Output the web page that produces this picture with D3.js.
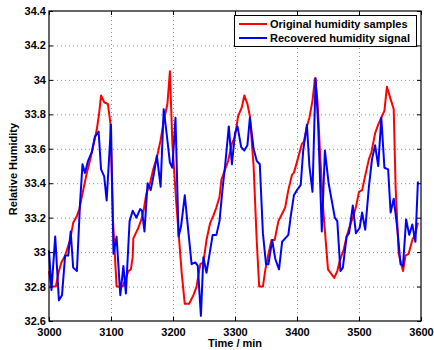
<!DOCTYPE html>
<html><head><meta charset="utf-8">
<script src="https://cdn.jsdelivr.net/npm/d3@7"></script>
<style>
html,body{margin:0;padding:0;background:#fff;}
svg text{font-family:"Liberation Sans",Arial,Helvetica,sans-serif;font-weight:bold;font-size:11px;fill:#000;}
</style></head><body>
<svg id="chart" width="434" height="350"></svg>
<script>
// Original humidity samples (time in minutes, relative humidity)
const originalTime = [3000,3004,3011,3016,3020,3026,3034,3039,3045,3049,3054,3061,3066,3071,3077,3081,3084,3089,3095,3099,3103,3109,3119,3128,3132,3135,3136,3144,3149,3153,3157,3163,3168,3174,3180,3185,3191,3195,3199,3205,3214,3219,3226,3233,3238,3244,3249,3254,3260,3265,3270,3275,3278,3284,3289,3295,3300,3305,3311,3315,3320,3324,3330,3335,3339,3345,3349,3354,3359,3364,3370,3377,3381,3386,3392,3395,3402,3408,3411,3416,3420,3425,3429,3433,3437,3442,3450,3456,3460,3465,3469,3475,3480,3485,3491,3495,3500,3505,3511,3516,3520,3526,3531,3537,3541,3545,3550,3556,3559,3564,3571,3575,3580,3586,3591,3595];
const originalHumidity = [32.89,32.80,32.80,32.89,32.94,32.98,33.07,33.17,33.21,33.25,33.34,33.46,33.53,33.61,33.71,33.81,33.91,33.87,33.86,33.75,33.20,32.80,32.80,32.89,32.90,32.97,33.08,33.14,33.19,33.25,33.34,33.40,33.48,33.55,33.65,33.76,33.86,34.05,33.63,33.30,32.88,32.70,32.70,32.75,32.80,32.93,32.94,33.07,33.17,33.21,33.26,33.32,33.42,33.48,33.53,33.63,33.67,33.79,33.84,33.91,33.86,33.79,33.50,33.07,32.80,32.80,32.90,32.99,33.07,33.07,33.18,33.23,33.26,33.36,33.45,33.46,33.55,33.63,33.64,33.73,33.78,33.88,34.01,33.88,33.59,33.26,32.90,32.87,32.85,32.89,32.95,33.01,33.09,33.15,33.21,33.26,33.35,33.36,33.46,33.54,33.58,33.69,33.74,33.79,33.82,33.96,33.90,33.83,33.38,32.99,32.89,32.98,32.99,33.07,33.11,33.17];

// Recovered humidity signal
const recoveredTime = [3000,3004,3010,3016,3021,3026,3031,3035,3039,3045,3050,3054,3058,3063,3069,3074,3080,3084,3089,3093,3100,3104,3109,3115,3120,3124,3130,3135,3141,3147,3150,3154,3159,3164,3169,3174,3180,3185,3190,3195,3199,3204,3209,3213,3219,3225,3230,3236,3240,3245,3249,3254,3259,3264,3270,3275,3280,3284,3290,3295,3300,3304,3310,3315,3320,3324,3330,3335,3340,3345,3350,3354,3360,3365,3371,3376,3381,3386,3390,3395,3400,3406,3410,3416,3420,3425,3430,3434,3440,3445,3451,3456,3461,3465,3470,3474,3480,3484,3490,3495,3501,3505,3510,3516,3521,3526,3531,3536,3541,3547,3551,3556,3562,3567,3571,3576,3581,3586,3591,3595];
const recoveredHumidity = [33.01,32.78,33.09,32.72,32.75,32.98,32.98,33.12,32.91,32.89,33.28,33.51,33.46,33.53,33.58,33.67,33.70,33.48,33.44,33.30,33.74,32.99,33.09,32.75,32.92,32.76,33.18,33.24,33.20,33.25,33.24,33.12,33.40,33.36,33.45,33.56,33.38,33.83,33.68,33.52,33.49,33.78,33.09,33.15,33.33,33.11,32.93,32.94,32.92,32.63,32.97,32.88,32.99,33.10,33.10,33.18,33.37,33.50,33.73,33.51,33.69,33.73,33.61,33.59,33.62,33.78,33.60,33.53,33.51,33.11,32.93,32.93,33.07,32.96,32.90,33.06,33.08,33.10,33.21,33.33,33.36,33.39,33.59,33.74,33.50,33.35,34.01,33.75,33.12,33.59,33.40,33.30,33.20,33.18,32.89,32.91,33.09,33.11,33.27,33.11,33.14,33.23,33.13,33.38,33.54,33.62,33.50,33.78,33.49,33.48,33.23,33.31,33.13,32.93,32.92,33.19,33.10,33.16,33.06,33.41];

const timeTicks = [3000,3100,3200,3300,3400,3500,3600];
const humidityTicks = [32.6,32.8,33.0,33.2,33.4,33.6,33.8,34.0,34.2,34.4];
const humidityTickLabels = ["32.6","32.8","33","33.2","33.4","33.6","33.8","34","34.2","34.4"];
const seriesNames = ["Original humidity samples","Recovered humidity signal"];
const seriesColors = ["#ff0000","#0000ff"];

const svg = d3.select("#chart");
const box = {left:49, top:11, right:421, bottom:321};
const w = box.right - box.left, h = box.bottom - box.top;

const x = d3.scaleLinear().domain([3000,3600]).range([box.left, box.right]);
const y = d3.scaleLinear().domain([32.6,34.4]).range([box.bottom, box.top]);

// dotted grid
const grid = svg.append("g").attr("class","grid");
grid.append("g").attr("transform",`translate(0,${box.bottom})`)
  .call(d3.axisBottom(x).tickValues(timeTicks.slice(1,-1)).tickSize(-h).tickFormat(""));
grid.append("g").attr("transform",`translate(${box.left},0)`)
  .call(d3.axisLeft(y).tickValues(humidityTicks.slice(1,-1)).tickSize(-w).tickFormat(""));
grid.selectAll(".domain").remove();
grid.selectAll("line").attr("stroke","#8c8c8c").attr("stroke-width",1).attr("stroke-dasharray","1,3");

// series
const line = (xs) => d3.line().x((d,i)=>x(xs[i])).y(d=>y(d));
svg.append("path").datum(originalHumidity)
  .attr("d", line(originalTime))
  .attr("fill","none").attr("stroke",seriesColors[0]).attr("stroke-width",2).attr("stroke-linejoin","round");
svg.append("path").datum(recoveredHumidity)
  .attr("d", line(recoveredTime))
  .attr("fill","none").attr("stroke",seriesColors[1]).attr("stroke-width",2).attr("stroke-linejoin","round");

// axes with inward ticks
const fmtY = (d)=> humidityTickLabels[humidityTicks.findIndex(v=>Math.abs(v-d)<1e-9)];
const xb = svg.append("g").attr("transform",`translate(0,${box.bottom})`)
  .call(d3.axisBottom(x).tickValues(timeTicks).tickSizeInner(-4).tickSizeOuter(0).tickPadding(7).tickFormat(d3.format("d")));
const yl = svg.append("g").attr("transform",`translate(${box.left},0)`)
  .call(d3.axisLeft(y).tickValues(humidityTicks).tickSizeInner(-4).tickSizeOuter(0).tickPadding(3).tickFormat(fmtY));
const xt = svg.append("g").attr("transform",`translate(0,${box.top})`)
  .call(d3.axisTop(x).tickValues(timeTicks).tickSizeInner(-4).tickSizeOuter(0).tickFormat(""));
const yr = svg.append("g").attr("transform",`translate(${box.right},0)`)
  .call(d3.axisRight(y).tickValues(humidityTicks).tickSizeInner(-4).tickSizeOuter(0).tickFormat(""));
[xb,yl,xt,yr].forEach(g=>{
  g.selectAll(".domain").remove();
  g.selectAll("line").attr("stroke","#000");
  g.selectAll("text").attr("font-size",null).attr("font-family",null);
  g.attr("font-size",null).attr("font-family",null);
});

// frame
svg.append("rect").attr("x",box.left).attr("y",box.top).attr("width",w).attr("height",h)
  .attr("fill","none").attr("stroke","#000").attr("stroke-width",1.2);

// axis titles
svg.append("text").attr("x",(box.left+box.right)/2).attr("y",347).attr("text-anchor","middle").text("Time / min");
svg.append("text").attr("transform","translate(17,169) rotate(-90)").attr("text-anchor","middle").text("Relative Humidity");

// legend
const lg = svg.append("g");
lg.append("rect").attr("x",234.5).attr("y",15.5).attr("width",182).attr("height",31)
  .attr("fill","#fff").attr("stroke","#000").attr("stroke-width",1);
seriesNames.forEach((name,i)=>{
  const yy = 24 + i*14;
  lg.append("line").attr("x1",239).attr("x2",267).attr("y1",yy).attr("y2",yy)
    .attr("stroke",seriesColors[i]).attr("stroke-width",2);
  lg.append("text").attr("x",270).attr("y",yy+4).text(name);
});
</script>
</body></html>
